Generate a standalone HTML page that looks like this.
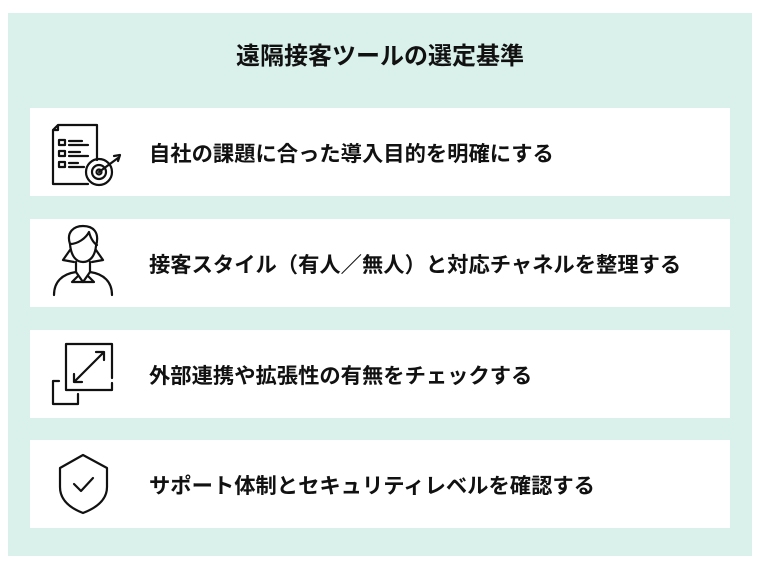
<!DOCTYPE html>
<html><head><meta charset="utf-8"><style>
body{margin:0;width:760px;height:570px;background:#fff;position:relative;overflow:hidden;font-family:"Liberation Sans","Noto Sans CJK JP",sans-serif;}
.panel{position:absolute;left:8px;top:13px;width:744px;height:543px;background:#d9f0eb;}
.title{position:absolute;left:0;width:760px;top:42px;text-align:center;font-size:24px;font-weight:bold;color:#111;line-height:30px;}
.card{position:absolute;left:30px;width:700px;height:88px;background:#fff;}
.card .t{position:absolute;left:119px;top:2px;line-height:88px;font-size:21.3px;font-weight:bold;color:#111;white-space:nowrap;}
svg{position:absolute;}
</style></head><body>
<div class="panel"></div>
<div class="title">遠隔接客ツールの選定基準</div>

<div class="card" style="top:108px"><div class="t">自社の課題に合った導入目的を明確にする</div></div>
<div class="card" style="top:219px"><div class="t">接客スタイル（有人／無人）と対応チャネルを整理する</div></div>
<div class="card" style="top:330px"><div class="t">外部連携や拡張性の有無をチェックする</div></div>
<div class="card" style="top:440px"><div class="t">サポート体制とセキュリティレベルを確認する</div></div>

<svg width="760" height="570" style="left:0;top:0" fill="none" stroke="#111" stroke-width="2.2" stroke-linecap="round" stroke-linejoin="round">
  <path d="M58 125 L97 125 L97 160 M88 184 L53 184 L53 130 L58 125 L58 130 L53 130"/>
  <rect x="59" y="140" width="6" height="5"/><rect x="59" y="151" width="6" height="5"/><rect x="59" y="162" width="6" height="5"/>
  <path d="M69 141 L82 141 M69 145 L88 145 M69 152 L80 152 M69 156 L88 156 M69 163 L78 163 M69 167 L84 167"/>
  <circle cx="99" cy="172" r="13"/><circle cx="99" cy="172" r="7"/><circle cx="99" cy="172" r="2.5"/>
  <path d="M99 172 L118 158 M114 156 L120 155 L118 161"/>
  <path d="M70 244 C66 232 74 226 83 226 C93 226 100 232 96 246 C95 256 90 262 83 262 C76 262 71 256 70 244 Z"/>
  <path d="M70 244 C78 244 86 238 89 232 C91 240 95 244 97 245"/>
  <path d="M70 250 L63 260 L74 262 M96 250 L103 260 L92 262"/>
  <path d="M54 295 C54 282 62 274 76 272 L83 282 L90 272 C104 274 112 282 112 295"/>
  <path d="M76 262 L76 272 M90 262 L90 272 M78 276 L72 282 L83 282 L94 282 L88 276"/>
  <path d="M66 344 L112 344 L112 378 M112 383 L112 390 L66 390 L66 344"/>
  <path d="M59 381 L53 381 L53 404 L78 404 L78 394"/>
  <path d="M74 382 L104 352 M96 352 L104 352 L104 360 M74 374 L74 382 L82 382"/>
  <path d="M83 455 L107 468 L107 487 C107 500 96 508 83 513 C70 508 60 500 60 487 L60 468 Z"/>
  <path d="M74 484 L81 491 L93 478"/>
</svg>
</body></html>
